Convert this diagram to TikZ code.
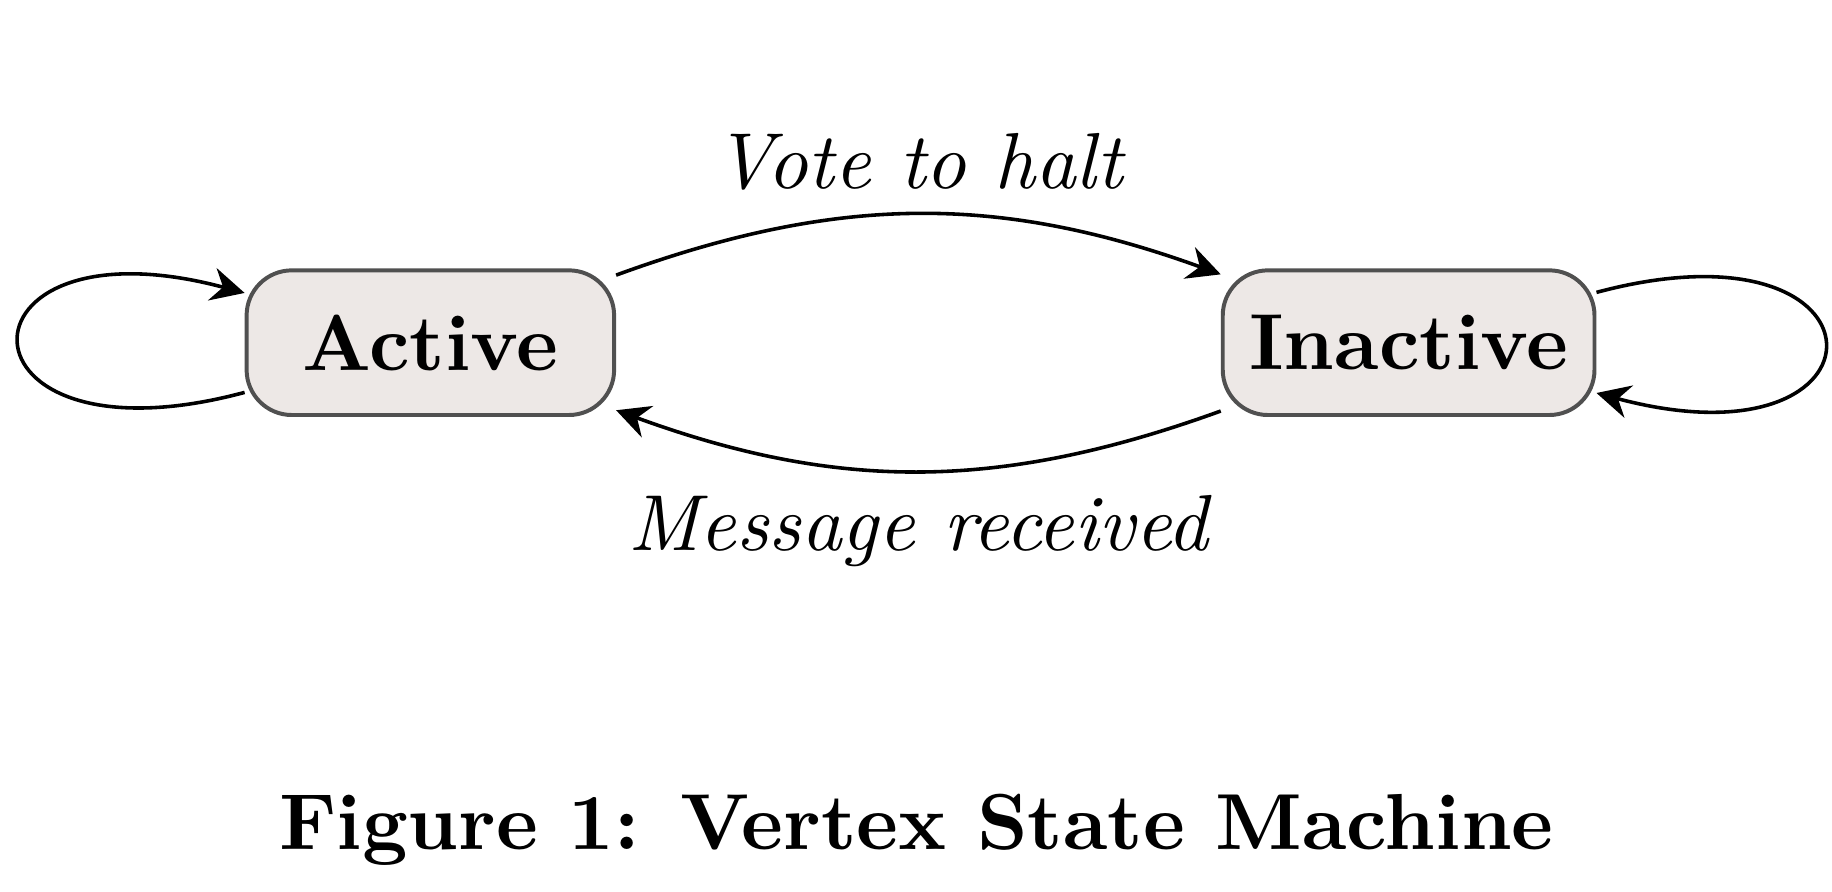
\documentclass[tikz,border=0pt]{standalone}
\usepackage{tikz}
\usepackage{xcolor}
\usetikzlibrary{positioning}
\usetikzlibrary{arrows.meta}
\definecolor{statefill}{HTML}{EDE8E6}
\definecolor{stateline}{HTML}{505050}
\tikzstyle{state} = [rectangle, rounded corners=0.2cm, minimum width=1.626cm, minimum height=0.64cm, text centered, draw=stateline, line width=0.5pt, fill=statefill, font=\bfseries]
\tikzstyle{arrow} = [line width=0.45pt,->,>={Stealth[length=4.2pt,width=4.2pt,inset=1.4pt]}]
\tikzstyle{edgelabel} = [font=\itshape, inner sep=0.1cm]

\begin{document}
\begin{tikzpicture}
        \useasboundingbox (0,0) rectangle (8.105,3.945);
        \node (active) [state] at (1.904,2.429) {Active};
        \node (inactive) [state, right=2.675cm of active] {Inactive};
        \node (caption) [anchor=base, font=\bfseries] at (4.055,0.189) {Figure 1: Vertex State Machine};

        \draw [arrow] (active) to[bend left=20] node[edgelabel, above] {Vote to halt} (inactive);
        \draw [arrow] (inactive) to[bend left=20] node[edgelabel, below] {Message received} (active);
        \draw [arrow] (active) to[loop left] (active);
        \draw [arrow] (inactive) to[loop right] (inactive);
    \end{tikzpicture}
\end{document}
